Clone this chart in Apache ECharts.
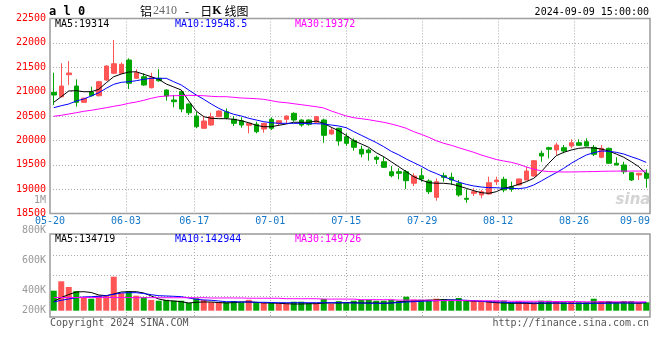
<!DOCTYPE html>
<html><head><meta charset="utf-8">
<script src="https://cdn.jsdelivr.net/npm/echarts@6/dist/echarts.min.js"></script>
<style>html,body{margin:0;padding:0;background:#fff}#c{width:660px;height:360px}</style>
</head><body><div id="c"></div>
<script>
const dates = ['05-20','05-21','05-22','05-23','05-24','05-27','05-28','05-29','05-30','05-31',
'06-03','06-04','06-05','06-06','06-07','06-11','06-12','06-13','06-14','06-17',
'06-18','06-19','06-20','06-21','06-24','06-25','06-26','06-27','06-28','07-01',
'07-02','07-03','07-04','07-05','07-08','07-09','07-10','07-11','07-12','07-15',
'07-16','07-17','07-18','07-19','07-22','07-23','07-24','07-25','07-26','07-29',
'07-30','07-31','08-01','08-02','08-05','08-06','08-07','08-08','08-09','08-12',
'08-13','08-14','08-15','08-16','08-19','08-20','08-21','08-22','08-23','08-26',
'08-27','08-28','08-29','08-30','09-02','09-03','09-04','09-05','09-06','09-09'];
const tickLabels = ['05-20','06-03','06-17','07-01','07-15','07-29','08-12','08-26','09-09'];

const openP = [20986,20896,21347,21115,20781,20992,20916,21238,21376,21376,
21648,21273,21306,21080,21273,21033,20828,20998,20746,20500,
20248,20315,20486,20588,20432,20403,20309,20330,20233,20432,
20350,20432,20555,20418,20418,20371,20418,20131,20248,20075,
19993,19817,19802,19653,19562,19357,19357,19357,19120,19275,
19167,18832,19275,19243,19120,18812,18914,18880,18900,19152,
19202,19050,19085,19187,19269,19735,19850,19802,19850,19884,
19952,19973,19858,19653,19837,19530,19495,19337,19290,19325];
const closeP = [20931,21115,21382,20781,20863,20916,21203,21525,21572,21560,
21171,21388,21136,21285,21224,20910,20793,20643,20567,20280,
20397,20486,20602,20465,20350,20315,20350,20178,20350,20248,
20403,20500,20418,20315,20330,20486,20104,20213,19987,19940,
19858,19720,19747,19612,19448,19275,19325,19173,19269,19208,
18947,19152,19243,19187,18880,18791,18947,18947,19132,19187,
18982,18996,19208,19372,19583,19679,19817,19905,19782,19952,
19899,19884,19714,19837,19530,19495,19357,19187,19325,19222];
const lowP = [20725,20880,21136,20691,20770,20900,20900,21220,21360,21360,
21054,21260,21120,21065,21203,20814,20678,20576,20520,20248,
20240,20300,20475,20432,20295,20260,20145,20145,20157,20213,
20295,20350,20383,20280,20301,20350,19952,20120,19891,19891,
19788,19653,19583,19515,19440,19243,19202,19003,19064,19152,
18900,18763,19152,19085,18845,18722,18859,18812,18890,19085,
18935,18947,19080,19180,19255,19562,19632,19700,19735,19837,
19890,19875,19679,19632,19525,19490,19310,19167,19187,19029];
const highP = [21388,21581,21628,21253,20880,21101,21220,21540,22059,21600,
21683,21458,21376,21388,21458,21045,20931,21010,20760,20588,
20506,20567,20615,20658,20500,20473,20360,20383,20360,20473,
20415,20510,20576,20430,20430,20495,20445,20268,20260,20145,
20042,19891,19837,19686,19665,19474,19427,19392,19325,19427,
19202,19222,19337,19337,19187,18996,19017,18982,19255,19255,
19255,19152,19215,19460,19597,19788,19870,19952,19905,20022,
20022,20042,19905,19905,19850,19653,19562,19345,19335,19407];

const ma5 = [20781,20896,21013,21019,20998,20998,21047,21183,21306,21361,
21402,21408,21355,21306,21253,21156,21095,21033,20810,20602,
20486,20453,20445,20445,20432,20403,20362,20309,20280,20280,
20309,20336,20371,20371,20371,20397,20350,20268,20198,20100,
19993,19926,19858,19747,19665,19562,19460,19357,19255,19187,
19132,19120,19120,19105,19064,19017,18968,18927,18914,18947,
19017,19050,19099,19152,19222,19357,19530,19686,19755,19802,
19837,19850,19844,19823,19782,19720,19653,19562,19460,19314];
const ma10 = [20670,20711,20746,20808,20849,20910,20978,21068,21150,21191,
21203,21224,21253,21273,21273,21273,21203,21136,21033,20931,
20842,20746,20658,20588,20535,20500,20453,20418,20383,20362,
20350,20350,20350,20350,20342,20342,20336,20315,20295,20260,
20180,20105,20030,19955,19870,19775,19703,19617,19543,19469,
19382,19320,19254,19198,19143,19098,19065,19043,19030,19029,
19017,19017,19009,19029,19085,19167,19255,19337,19427,19530,
19618,19700,19747,19782,19776,19755,19720,19665,19612,19548.5];
const ma30 = [20494,20514,20541,20567,20596,20617,20643,20670,20699,20725,
20760,20787,20822,20863,20896,20910,20916,20920,20924,20920,
20916,20904,20896,20896,20883,20869,20863,20855,20842,20814,
20787,20773,20752,20732,20711,20691,20664,20603,20551,20500,
20465,20445,20424,20397,20371,20336,20295,20248,20178,20124,
20063,19993,19940,19899,19850,19802,19755,19700,19653,19608,
19577,19550,19509,19455,19410,19375,19360,19355,19352,19352,
19355,19358,19360,19365,19368,19370,19370,19370,19371,19372];

const vol = [340000,500000,403000,332000,221000,204000,255000,255000,578000,298000,
332000,255000,230000,184000,170000,184000,170000,170000,133000,211000,
184000,145000,145000,145000,165000,145000,184000,145000,136000,136000,
128000,128000,153000,153000,128000,128000,201000,119000,162000,136000,
170000,187000,187000,170000,170000,187000,170000,238000,187000,187000,
187000,204000,199000,187000,216000,170000,170000,170000,170000,170000,
170000,143000,165000,143000,143000,170000,170000,165000,143000,165000,
143000,143000,204000,165000,165000,143000,165000,165000,143000,143000];
const volMa5 = [156000,224000,275000,318000,323000,309000,267000,255000,284000,318000,
323000,323000,301000,250000,199000,173000,165000,153000,131000,143000,
148000,148000,139000,131000,139000,148000,148000,143000,131000,131000,
126000,119000,114000,114000,119000,119000,131000,131000,131000,136000,
136000,131000,131000,131000,126000,131000,148000,160000,165000,170000,
177000,182000,187000,182000,177000,170000,160000,160000,148000,136000,
131000,126000,126000,126000,119000,126000,126000,131000,126000,126000,
126000,126000,131000,131000,136000,136000,136000,131000,128000,134719];
const volMa10 = [148000,177000,199000,221000,233000,238000,245000,255000,279000,301000,
306000,306000,292000,272000,255000,250000,245000,238000,216000,194000,
182000,177000,165000,153000,153000,148000,148000,143000,143000,139000,
136000,136000,136000,136000,136000,136000,136000,136000,136000,136000,
131000,131000,128000,126000,126000,131000,139000,148000,153000,160000,
165000,170000,177000,182000,182000,177000,170000,160000,153000,148000,
143000,136000,136000,136000,131000,131000,131000,131000,128000,126000,
126000,126000,126000,126000,126000,131000,131000,131000,131000,142944];
const volMa30 = [224000,224000,225000,224000,224000,223000,224000,224000,224000,223000,
224000,221000,221000,222000,221000,221000,220000,221000,221000,220000,
221000,216000,216000,217000,216000,216000,212000,212000,212000,211000,
212000,204000,204000,203000,204000,204000,197000,197000,198000,197000,
197000,187000,187000,188000,187000,187000,180000,180000,181000,180000,
180000,172000,172000,173000,172000,172000,167000,167000,168000,167000,
167000,160000,160000,161000,160000,160000,155000,155000,156000,155000,
155000,151000,151000,152000,151000,151000,150000,150000,150000,149726];

const RED = '#ff5555', GREEN = '#00a600';
const MONO = 'DejaVu Sans Mono';
const GRIDC = '#aaaaaa';
const isTickIdx = (i) => tickLabels.indexOf(dates[i]) >= 0;

const candleData = dates.map((d, i) => [openP[i], closeP[i], lowP[i], highP[i]]);
const volData = vol.map((v, i) => ({value: v, itemStyle: {color: closeP[i] >= openP[i] ? RED : GREEN}}));

const chart = echarts.init(document.getElementById('c'), null, {renderer: 'canvas'});
const lineS = (name, data, color, xi, yi) => ({
  name, type: 'line', data, xAxisIndex: xi, yAxisIndex: yi, symbol: 'none', silent: true,
  lineStyle: {color, width: 1}, z: 5
});
const fmtVol = v => v >= 1000000 ? (v / 1000000) + 'M' : (v / 1000) + 'K';

chart.setOption({
  animation: false,
  backgroundColor: '#fff',
  grid: [
    {left: 50, width: 600, top: 18.5, height: 195, show: true, borderColor: '#9a9a9a', borderWidth: 1.5, outerBoundsMode: 'none'},
    {left: 50, width: 600, top: 234, height: 76.7, outerBoundsMode: 'none'},
    {left: 50, width: 600, top: 200.7, height: 120, outerBoundsMode: 'none'},
    {left: 50, width: 600, top: 234, height: 83, show: true, borderColor: '#9a9a9a', borderWidth: 1.5, outerBoundsMode: 'none'}
  ],
  xAxis: [
    {gridIndex: 0, type: 'category', data: dates, boundaryGap: true, show: false},
    {gridIndex: 0, type: 'category', data: dates, boundaryGap: false, position: 'bottom',
      axisLine: {show: false}, axisTick: {show: false},
      axisLabel: {interval: (i) => isTickIdx(i), color: '#1477c8', fontFamily: MONO, fontSize: 10, margin: 3, alignMaxLabel: 'right'},
      splitLine: {show: true, interval: (i) => isTickIdx(i) && i > 0 && i < dates.length - 1, lineStyle: {color: GRIDC, type: [1, 2], width: 1}}},
    {gridIndex: 1, type: 'category', data: dates, boundaryGap: true, show: false},
    {gridIndex: 2, type: 'category', data: dates, show: false},
    {gridIndex: 3, type: 'category', data: dates, boundaryGap: false,
      axisLine: {show: false}, axisTick: {show: false}, axisLabel: {show: false},
      splitLine: {show: true, interval: (i) => isTickIdx(i) && i > 0 && i < dates.length - 1, lineStyle: {color: GRIDC, type: [1, 2], width: 1}}}
  ],
  yAxis: [
    {gridIndex: 0, type: 'value', min: 18500, max: 22500, interval: 500,
      axisLine: {show: false}, axisTick: {show: false},
      axisLabel: {color: '#ff0000', fontFamily: MONO, fontSize: 10, margin: 4, padding: [0, 0, 4, 0], formatter: v => String(v)},
      splitLine: {show: true, lineStyle: {color: GRIDC, type: [1, 2], width: 1}}},
    {gridIndex: 1, type: 'value', min: 0, max: 1304000, show: false},
    {gridIndex: 2, type: 'value', min: 200000, max: 1000000, interval: 200000,
      axisLine: {show: false}, axisTick: {show: false}, splitLine: {show: false},
      axisLabel: {color: '#999999', fontFamily: MONO, fontSize: 10, margin: 4,
        formatter: v => v === 200000 ? '{lo|' + fmtVol(v) + '}' : fmtVol(v),
        rich: {lo: {color: '#999999', fontFamily: MONO, fontSize: 10, padding: [0, 0, 20, 0]}}}},
    {gridIndex: 3, type: 'value', min: 0, max: 4, interval: 1,
      axisLine: {show: false}, axisTick: {show: false}, axisLabel: {show: false},
      splitLine: {show: true, lineStyle: {color: GRIDC, type: [1, 2], width: 1}}}
  ],
  series: [
    {name: 'K', type: 'candlestick', xAxisIndex: 0, yAxisIndex: 0, data: candleData, barWidth: 5,
      itemStyle: {color: RED, color0: GREEN, borderColor: RED, borderColor0: GREEN, borderWidth: 1}, z: 3},
    lineS('MA5', ma5, '#000000', 0, 0),
    lineS('MA10', ma10, '#0000ff', 0, 0),
    lineS('MA30', ma30, '#ff00ff', 0, 0),
    {name: 'VOL', type: 'bar', xAxisIndex: 2, yAxisIndex: 1, data: volData, barWidth: 6, z: 3},
    lineS('VMA5', volMa5, '#000000', 2, 1),
    lineS('VMA10', volMa10, '#0000ff', 2, 1),
    lineS('VMA30', volMa30, '#ff00ff', 2, 1)
  ],
  graphic: [
    {type: 'text', x: 49, y: 12, style: {text: 'a l 0', font: 'bold 12px "DejaVu Sans Mono"', fill: '#000', verticalAlign: 'middle'}},
    {type: 'text', x: 140, y: 11, style: {text: '{a|铝}{b|2410}{m|-}{a|日}{k|K}{a|线图}', align: 'left', verticalAlign: 'middle',
      rich: {a: {font: '12px "Noto Sans CJK SC"', fill: '#000'},
             b: {font: '12px "Liberation Serif"', fill: '#666', padding: [0, 0, 0, 1]},
             m: {font: '12px "Noto Sans CJK SC"', fill: '#000', padding: [0, 11, 0, 8]},
             k: {font: 'bold 12px "Liberation Serif"', fill: '#000', padding: [0, 3, 0, 0]}}}},
    {type: 'text', x: 649, y: 12, style: {text: '2024-09-09 15:00:00', font: '10px "DejaVu Sans Mono"', fill: '#000', align: 'right', verticalAlign: 'middle'}},
    {type: 'text', x: 55, y: 24.5, style: {text: 'MA5:' + ma5[ma5.length - 1], font: '10px "DejaVu Sans Mono"', fill: '#000', verticalAlign: 'middle'}, z: 10},
    {type: 'text', x: 175, y: 24.5, style: {text: 'MA10:' + ma10[ma10.length - 1], font: '10px "DejaVu Sans Mono"', fill: '#0000ff', verticalAlign: 'middle'}, z: 10},
    {type: 'text', x: 295, y: 24.5, style: {text: 'MA30:' + ma30[ma30.length - 1], font: '10px "DejaVu Sans Mono"', fill: '#ff00ff', verticalAlign: 'middle'}, z: 10},
    {type: 'text', x: 55, y: 239, style: {text: 'MA5:' + volMa5[volMa5.length - 1], font: '10px "DejaVu Sans Mono"', fill: '#000', verticalAlign: 'middle'}, z: 10},
    {type: 'text', x: 175, y: 239, style: {text: 'MA10:' + volMa10[volMa10.length - 1], font: '10px "DejaVu Sans Mono"', fill: '#0000ff', verticalAlign: 'middle'}, z: 10},
    {type: 'text', x: 295, y: 239, style: {text: 'MA30:' + volMa30[volMa30.length - 1], font: '10px "DejaVu Sans Mono"', fill: '#ff00ff', verticalAlign: 'middle'}, z: 10},
    {type: 'text', x: 50, y: 323, style: {text: 'Copyright 2024 SINA.COM', font: '10px "DejaVu Sans Mono"', fill: '#555', verticalAlign: 'middle'}},
    {type: 'text', x: 649, y: 323, style: {text: 'http://finance.sina.com.cn', font: '10px "DejaVu Sans Mono"', fill: '#555', align: 'right', verticalAlign: 'middle'}},
    {type: 'text', x: 633, y: 200, style: {text: 'sina', font: 'italic bold 15px "DejaVu Sans"', fill: '#d4d4d4', align: 'center', verticalAlign: 'middle'}, z: 1}
  ]
});
</script></body></html>
